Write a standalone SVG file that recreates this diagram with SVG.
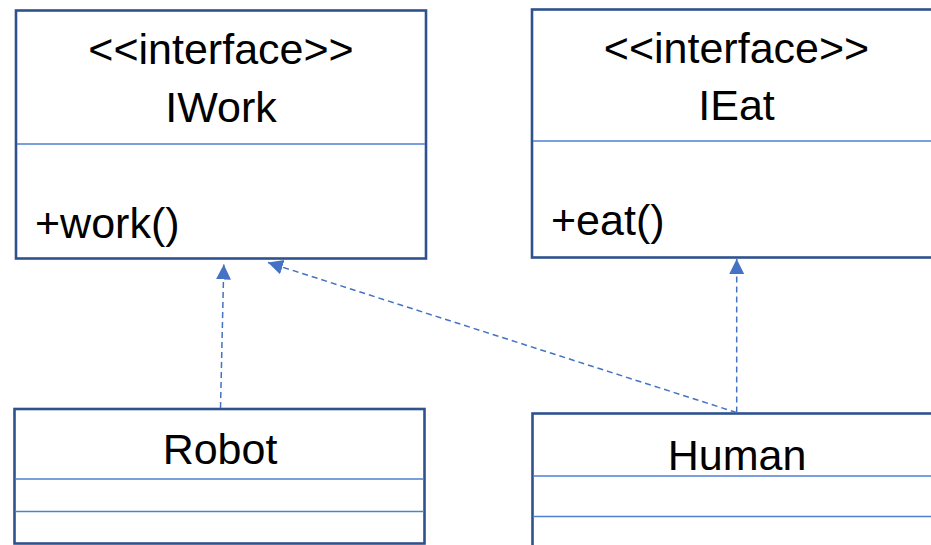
<svg xmlns="http://www.w3.org/2000/svg" width="931" height="545" viewBox="0 0 931 545">
  <style>
    .box { fill: #ffffff; stroke: #2F528F; stroke-width: 2.6; }
    .div { stroke: #4F7FCF; stroke-width: 1.5; fill: none; }
    .lbl { font-family: "Liberation Sans", Arial, sans-serif; font-size: 43px; fill: #000000; }
    .mid { text-anchor: middle; }
    .dep { stroke: #4472C4; stroke-width: 1.5; stroke-dasharray: 6 4; fill: none; }
  </style>
  <defs>
    <marker id="tri" markerUnits="userSpaceOnUse" markerWidth="16" markerHeight="16" viewBox="0 0 16 16" refX="15" refY="8" orient="auto">
      <path d="M0,0.5 L15,8 L0,15.5 Z" fill="#4472C4"/>
    </marker>
  </defs>
  <rect width="931" height="545" fill="#ffffff"/>

  <!-- interface IWork -->
  <g id="iwork">
    <rect class="box" x="16" y="10.5" width="410" height="248"/>
    <line class="div" x1="17" y1="144" x2="425" y2="144"/>
    <text class="lbl mid" x="221" y="64">&lt;&lt;interface&gt;&gt;</text>
    <text class="lbl mid" x="221" y="121.5">IWork</text>
    <text class="lbl" x="35" y="238">+work()</text>
  </g>

  <!-- interface IEat -->
  <g id="ieat">
    <rect class="box" x="532" y="9.5" width="410" height="248"/>
    <line class="div" x1="533" y1="141" x2="941" y2="141"/>
    <text class="lbl mid" x="736.5" y="63">&lt;&lt;interface&gt;&gt;</text>
    <text class="lbl mid" x="736.5" y="119.5">IEat</text>
    <text class="lbl" x="551" y="235">+eat()</text>
  </g>

  <!-- class Robot -->
  <g id="robot">
    <rect class="box" x="14.5" y="409" width="410" height="134.5"/>
    <line class="div" x1="15" y1="479" x2="424" y2="479"/>
    <line class="div" x1="15" y1="511.5" x2="424" y2="511.5"/>
    <text class="lbl mid" x="220" y="463.5">Robot</text>
  </g>

  <!-- class Human -->
  <g id="human">
    <rect class="box" x="532.5" y="413.5" width="410" height="140"/>
    <line class="div" x1="533" y1="476" x2="942" y2="476"/>
    <line class="div" x1="533" y1="516.5" x2="942" y2="516.5"/>
    <text class="lbl mid" x="737" y="469.5">Human</text>
  </g>

  <!-- realization connectors -->
  <g id="connectors">
    <path class="dep" d="M220.5,408 L223.8,264.5" marker-end="url(#tri)"/>
    <path class="dep" d="M736.5,412.5 L268,262.5" marker-end="url(#tri)"/>
    <path class="dep" d="M736.7,412.5 L736.7,259" marker-end="url(#tri)"/>
  </g>
</svg>
